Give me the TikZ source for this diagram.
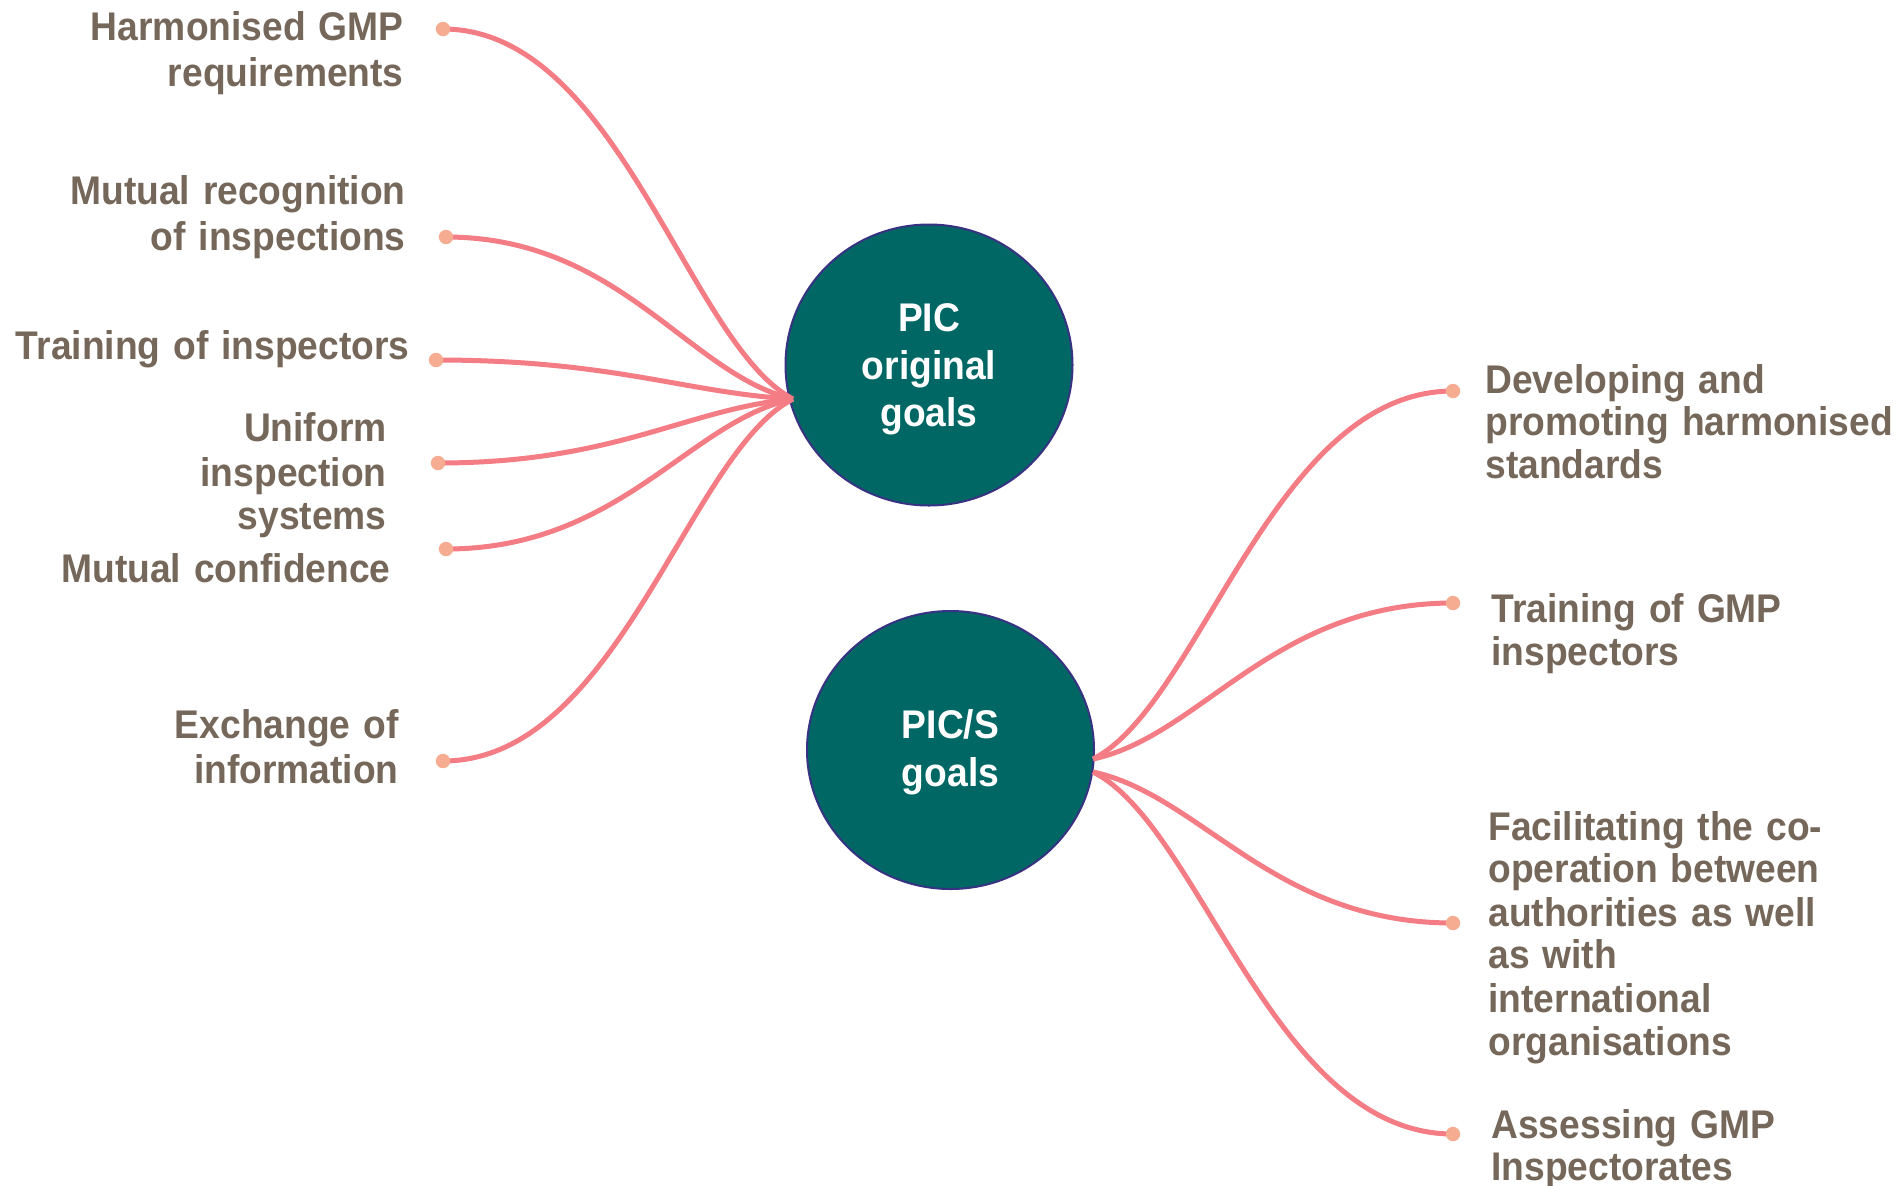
\documentclass[tikz,border=0pt]{standalone}
\usepackage{fontspec}
\setmainfont{Liberation Sans}[FakeStretch=0.93, WordSpace=1.25]
\usetikzlibrary{shapes.geometric}
\definecolor{hubfill}{RGB}{0,103,101}
\definecolor{hubedge}{RGB}{55,50,130}
\definecolor{branchc}{RGB}{244,124,132}
\definecolor{dotc}{RGB}{245,172,145}
\definecolor{txt}{RGB}{117,104,90}
\begin{document}
\begin{tikzpicture}[x=0.5pt,y=-0.5pt,
  hub/.style={ellipse, fill=hubfill, draw=hubedge, line width=1pt,
    minimum width=143.5pt, minimum height=140pt, inner sep=0pt},
  hubtxt/.style={text=white, align=center, inner sep=0pt, yshift=-2.2pt,
    font=\fontsize{20pt}{23.75pt}\selectfont\bfseries},
  branch/.style={draw=branchc, line width=2.5pt},
  enddot/.style={fill=dotc},
  lbl/.style={text=txt, inner sep=0pt, font=\fontsize{20pt}{22pt}\selectfont\bfseries},
  lblL/.style={lbl, anchor=base east},
  lblR/.style={lbl, anchor=base west}]
\useasboundingbox (0,0) rectangle (1903,1185);
\fill[white] (0,0) rectangle (1903,1185);

% central topics
\node[hub, minimum height=140.5pt,
  label={[hubtxt]center:{PIC\\original\\goals}}] (pic) at (929,365) {};
\node[hub, minimum height=139pt,
  label={[hubtxt, yshift=1pt]center:{PIC/S\\goals}}] (pics) at (950.5,750) {};

% branch roots at the circles
\coordinate (hl)  at (793,399);
\coordinate (hru) at (1093,759);
\coordinate (hrd) at (1093,772);

% branch end points
\coordinate (l1) at (443,29);
\coordinate (l2) at (446,237);
\coordinate (l3) at (436,360);
\coordinate (l4) at (438,463);
\coordinate (l5) at (446,549);
\coordinate (l6) at (443,761);
\coordinate (r1) at (1453,391);
\coordinate (r2) at (1453,603);
\coordinate (r3) at (1453,923);
\coordinate (r4) at (1453,1134);

% branches of the original goals
\draw[branch] (l1) .. controls +(175,0) and +(-105,-55) .. (hl);
\draw[branch] (l2) .. controls +(174,0) and +(-104,-24) .. (hl);
\draw[branch] (l3) .. controls +(178,0) and +(-107,-6) .. (hl);
\draw[branch] (l4) .. controls +(178,0) and +(-107,10) .. (hl);
\draw[branch] (l5) .. controls +(174,0) and +(-104,22) .. (hl);
\draw[branch] (l6) .. controls +(175,0) and +(-105,54) .. (hl);

% branches of the PIC/S goals
\draw[branch] (hru) .. controls +(108,-55) and +(-180,0) .. (r1);
\draw[branch] (hru) .. controls +(108,-23) and +(-180,0) .. (r2);
\draw[branch] (hrd) .. controls +(108,23) and +(-180,0) .. (r3);
\draw[branch] (hrd) .. controls +(108,54) and +(-180,0) .. (r4);

% end dots
\foreach \p in {l1,l2,l3,l4,l5,l6,r1,r2,r3,r4}
  \fill[enddot] (\p) circle (3.6pt);

% labels on the left
\node[lblL] (t1a) at (404,40) {Harmonised GMP};
\node[lblL] (t1b) at (404,86) {requirements};
\node[lblL] (t2a) at (406,204) {Mutual recognition};
\node[lblL] (t2b) at (406,250) {of inspections};
\node[lblL] (t3)  at (410,359) {Training of inspectors};
\node[lblL] (t4a) at (387,441) {Uniform};
\node[lblL] (t4b) at (387,486) {inspection};
\node[lblL] (t4c) at (387,529) {systems};
\node[lblL] (t5)  at (391,582) {Mutual confidence};
\node[lblL] (t6a) at (399,738) {Exchange of};
\node[lblL] (t6b) at (399,783) {information};

% labels on the right
\node[lblR] (s1a) at (1485,393) {Developing and};
\node[lblR] (s1b) at (1485,435) {promoting harmonised};
\node[lblR] (s1c) at (1485,478) {standards};
\node[lblR] (s2a) at (1491,622) {Training of GMP};
\node[lblR] (s2b) at (1491,665) {inspectors};
\node[lblR] (s3a) at (1488,840) {Facilitating the co-};
\node[lblR] (s3b) at (1488,882) {operation between};
\node[lblR] (s3c) at (1488,926) {authorities as well};
\node[lblR] (s3d) at (1488,968) {as with};
\node[lblR] (s3e) at (1488,1012) {international};
\node[lblR] (s3f) at (1488,1055) {organisations};
\node[lblR] (s4a) at (1491,1138) {Assessing GMP};
\node[lblR] (s4b) at (1491,1180) {Inspectorates};
\end{tikzpicture}
\end{document}
